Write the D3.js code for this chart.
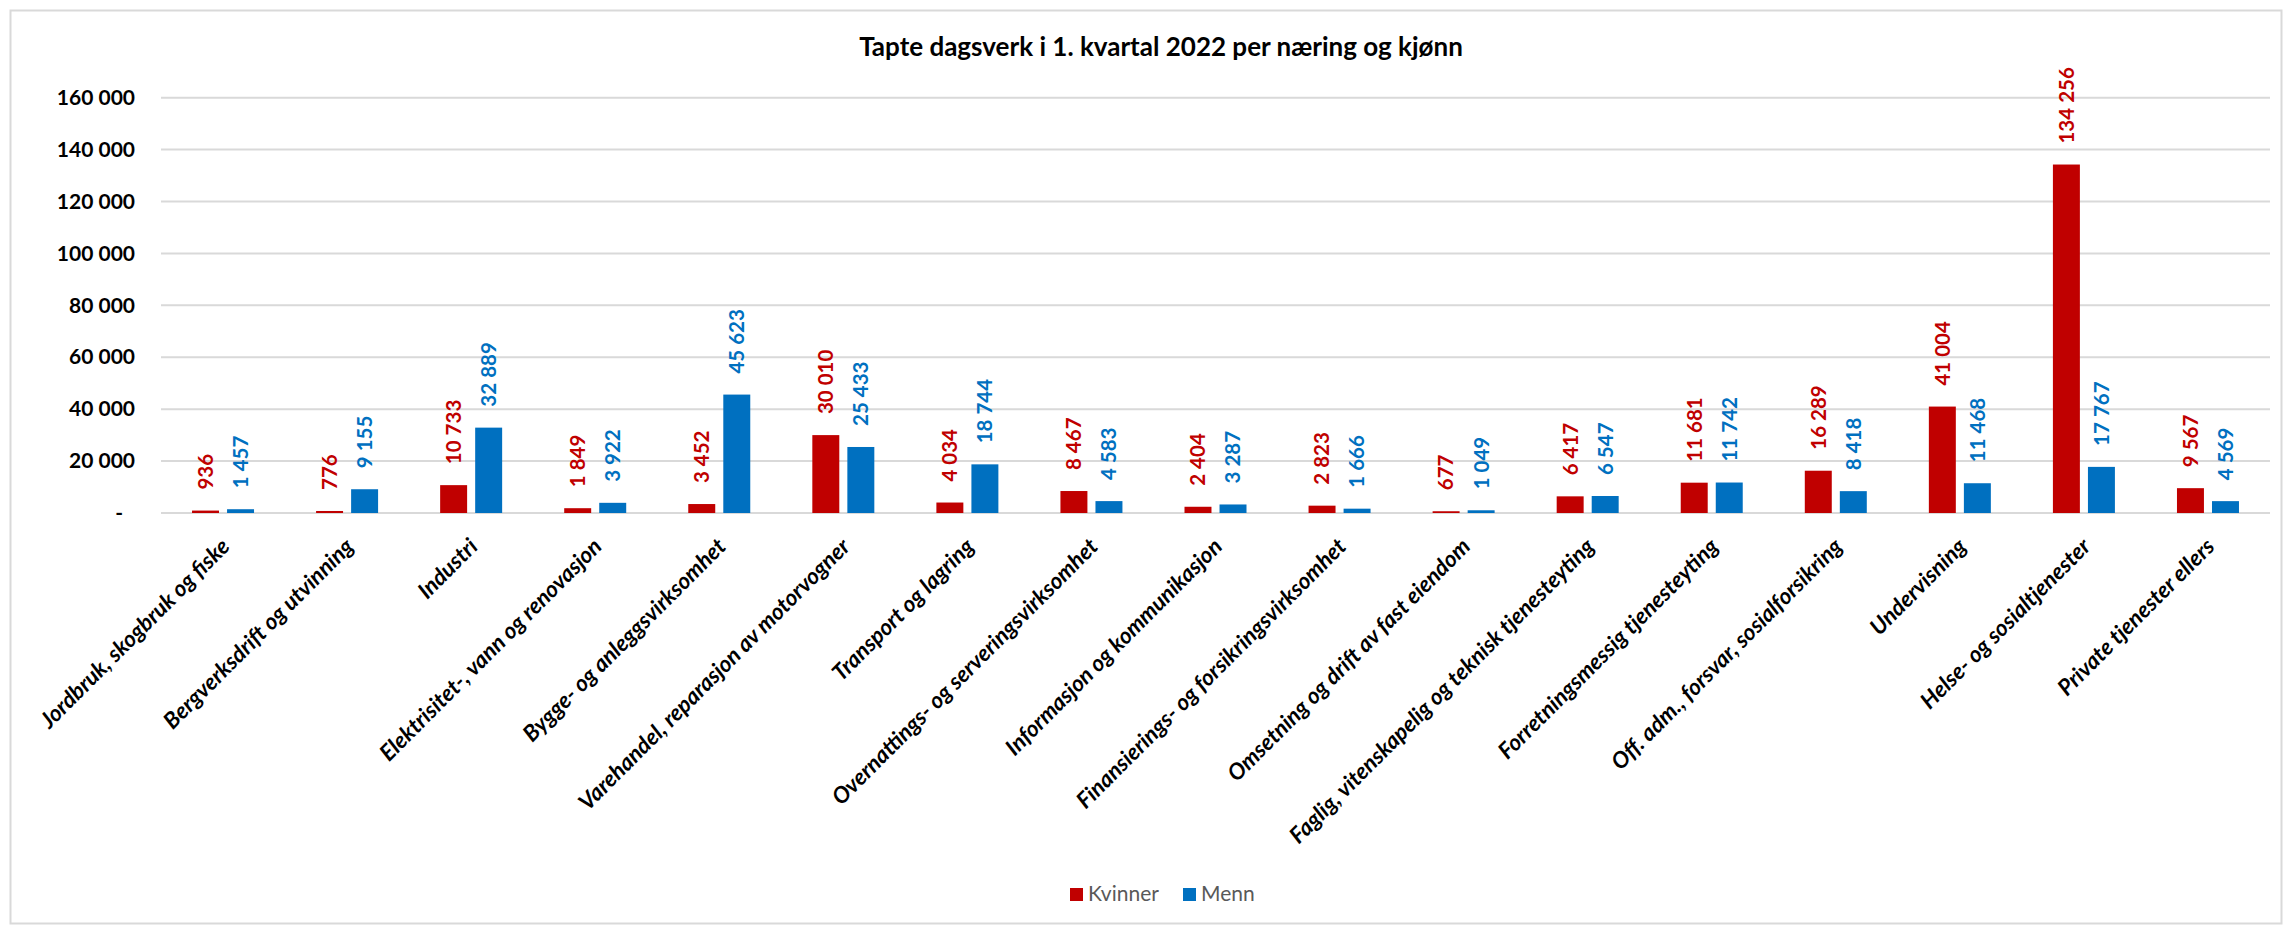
<!DOCTYPE html>
<html>
<head>
<meta charset="utf-8">
<script src="https://cdn.jsdelivr.net/npm/d3@7"></script>
<style>
    body { margin: 0; background: #ffffff; }
</style>
</head>
<body>
<div id="chart"></div>
<script>
// Chart data
var categories = [
    "Jordbruk, skogbruk og fiske",
    "Bergverksdrift og utvinning",
    "Industri",
    "Elektrisitet-, vann og renovasjon",
    "Bygge- og anleggsvirksomhet",
    "Varehandel, reparasjon av motorvogner",
    "Transport og lagring",
    "Overnattings- og serveringsvirksomhet",
    "Informasjon og kommunikasjon",
    "Finansierings- og forsikringsvirksomhet",
    "Omsetning og drift av fast eiendom",
    "Faglig, vitenskapelig og teknisk tjenesteyting",
    "Forretningsmessig tjenesteyting",
    "Off. adm., forsvar, sosialforsikring",
    "Undervisning",
    "Helse- og sosialtjenester",
    "Private tjenester ellers"
];
var kvinner = [936, 776, 10733, 1849, 3452, 30010, 4034, 8467, 2404, 2823, 677, 6417, 11681, 16289, 41004, 134256, 9567];
var menn = [1457, 9155, 32889, 3922, 45623, 25433, 18744, 4583, 3287, 1666, 1049, 6547, 11742, 8418, 11468, 17767, 4569];
var seriesNames = ["Kvinner", "Menn"];
var yTicks = [0, 20000, 40000, 60000, 80000, 100000, 120000, 140000, 160000];
var title = "Tapte dagsverk i 1. kvartal 2022 per næring og kjønn";

var colors = {"Kvinner": "#c00000", "Menn": "#0070c0"};

var svgWidth = 2288;
var svgHeight = 927;

var margin = { top: 97.7, bottom: 414, left: 161, right: 18 };
var width = svgWidth - margin.left - margin.right;
var height = svgHeight - margin.top - margin.bottom;

var fontMain = "Lato, 'Liberation Sans', sans-serif";

var svg = d3.select("#chart")
    .append("svg")
    .attr("width", svgWidth)
    .attr("height", svgHeight);

// outer border
svg.append("rect")
    .attr("x", 10.5)
    .attr("y", 10.5)
    .attr("width", 2271)
    .attr("height", 913)
    .attr("fill", "#ffffff")
    .attr("stroke", "#d9d9d9")
    .attr("stroke-width", 2);

// title
svg.append("text")
    .attr("x", 1161)
    .attr("y", 56)
    .attr("text-anchor", "middle")
    .style("font-family", fontMain)
    .style("font-weight", "bold")
    .style("font-size", "26px")
    .style("fill", "#000000")
    .text(title);

var chartGroup = svg.append("g")
    .attr("transform", `translate(${margin.left}, ${margin.top})`);

// scales
var x0 = d3.scaleBand()
    .domain(categories)
    .range([0, width])
    .paddingInner(0)
    .paddingOuter(0);

var x1 = d3.scaleBand()
    .domain(seriesNames)
    .range([-31, 31])
    .paddingInner(0.23);

var yLinear = d3.scaleLinear()
    .domain([0, 160000])
    .range([height, 0]);

var fmt = function(d) { return d3.format(",")(d).replace(/,/g, " "); };

// gridlines
chartGroup.append("g")
    .selectAll("line")
    .data(yTicks)
    .enter()
    .append("line")
    .attr("x1", 0)
    .attr("x2", width)
    .attr("y1", d => yLinear(d))
    .attr("y2", d => yLinear(d))
    .attr("stroke", "#d9d9d9")
    .attr("stroke-width", 2);

// y axis
var leftAxis = d3.axisLeft(yLinear)
    .tickValues(yTicks)
    .tickSize(0)
    .tickPadding(26)
    .tickFormat(d => d === 0 ? "-" : fmt(d));

var yAxis = chartGroup.append("g").call(leftAxis);
yAxis.select(".domain").remove();
yAxis.selectAll("text")
    .style("font-family", fontMain)
    .style("font-weight", "bold")
    .style("font-size", "21px")
    .style("fill", "#000000")
    .attr("dx", d => d === 0 ? -12 : 0);

// long-form rows
var rows = [];
categories.forEach(function(c, i) {
    rows.push({ cat: c, series: "Kvinner", value: kvinner[i] });
    rows.push({ cat: c, series: "Menn", value: menn[i] });
});

var cx = d => x0(d.cat) + x0.bandwidth() / 2 + x1(d.series) + x1.bandwidth() / 2;

// bars
chartGroup.selectAll("rect.bar")
    .data(rows)
    .enter()
    .append("rect")
    .attr("class", "bar")
    .attr("x", d => x0(d.cat) + x0.bandwidth() / 2 + x1(d.series))
    .attr("y", d => yLinear(d.value))
    .attr("width", x1.bandwidth())
    .attr("height", d => height - yLinear(d.value))
    .attr("fill", d => colors[d.series]);

// value labels
chartGroup.selectAll("text.val")
    .data(rows)
    .enter()
    .append("text")
    .attr("class", "val")
    .attr("transform", d => `translate(${cx(d)}, ${yLinear(d.value) - 21}) rotate(-90)`)
    .attr("dy", "0.36em")
    .attr("text-anchor", "start")
    .style("font-family", fontMain)
    .style("font-weight", "bold")
    .style("font-size", "20.5px")
    .style("fill", d => colors[d.series])
    .text(d => fmt(d.value));

// category labels
chartGroup.selectAll("text.cat")
    .data(categories)
    .enter()
    .append("text")
    .attr("class", "cat")
    .attr("transform", d => `translate(${x0(d) + x0.bandwidth() / 2 + 8}, ${height + 35}) rotate(-45)`)
    .attr("text-anchor", "end")
    .style("font-family", fontMain)
    .style("font-weight", "bold")
    .style("font-style", "italic")
    .style("font-size", "22.5px")
    .style("fill", "#000000")
    .text(d => d);

// legend
var legend = svg.append("g")
    .attr("transform", "translate(1070, 888)");

var legendX = [0, 113];
seriesNames.forEach(function(s, i) {
    legend.append("rect")
        .attr("x", legendX[i])
        .attr("y", 0)
        .attr("width", 13)
        .attr("height", 13)
        .attr("fill", colors[s]);
    legend.append("text")
        .attr("x", legendX[i] + 18)
        .attr("y", 13)
        .style("font-family", fontMain)
        .style("font-size", "21px")
        .style("fill", "#595959")
        .text(s);
});
</script>
</body>
</html>
